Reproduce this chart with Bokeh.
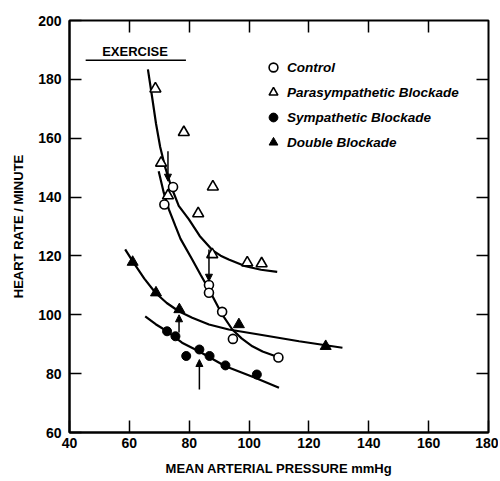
from bokeh.plotting import figure
from bokeh.models import (LinearAxis, FixedTicker, Range1d, Label, Arrow, NormalHead,
                          Legend, LegendItem, CustomJSTickFormatter, ColumnDataSource)
from bokeh.embed import file_html
from bokeh.resources import INLINE

# ---------------- data ----------------
control_x = [74.6, 71.7, 86.6, 86.6, 91.0, 94.6, 109.8]
control_y = [143.4, 137.5, 110.1, 107.5, 101.0, 91.8, 85.5]

para_x = [68.7, 78.2, 70.6, 72.9, 83.0, 87.9, 87.7, 99.4, 104.2]
para_y = [176.8, 162.0, 151.6, 140.5, 134.4, 143.5, 120.5, 117.7, 117.4]

symp_x = [72.6, 75.4, 79.0, 83.4, 86.8, 92.1, 102.6]
symp_y = [94.4, 92.7, 86.0, 88.2, 86.0, 82.8, 79.7]

double_x = [61.1, 68.9, 76.7, 96.6, 125.6]
double_y = [117.9, 107.5, 101.8, 96.7, 89.3]

# hand-drawn fitted curves
para_curve_x = [66.2, 67.6, 68.9, 70.3, 72.0, 74.0, 76.5, 79.9, 83.5, 87.7, 90.5, 93.2, 98.8, 104.0, 109.4]
para_curve_y = [183.4, 174.0, 165.0, 157.0, 150.0, 143.5, 137.0, 132.4, 126.8, 122.0, 120.1, 118.8, 116.5, 115.3, 114.6]

control_curve_x = [69.8, 71.5, 73.2, 75.4, 77.1, 81.0, 83.8, 86.6, 91.0, 94.4, 97.5, 101.1, 104.5, 108.9]
control_curve_y = [148.8, 141.5, 135.8, 130.1, 125.8, 118.8, 113.6, 108.6, 100.1, 95.0, 92.0, 89.3, 87.5, 85.9]

double_curve_x = [58.6, 61.4, 65.0, 68.7, 72.5, 76.5, 81.0, 86.6, 93.2, 103.3, 116.7, 131.2]
double_curve_y = [122.2, 117.7, 112.3, 107.5, 104.0, 101.2, 99.0, 96.7, 95.0, 93.3, 91.0, 88.8]

symp_curve_x = [65.3, 68.8, 72.6, 77.6, 83.2, 92.1, 102.0, 110.0]
symp_curve_y = [99.5, 96.8, 94.4, 90.5, 87.6, 82.5, 78.6, 75.2]

# arrows (x, from y, to y)
arrow_x = [72.9, 86.6, 76.6, 83.4]
arrow_y0 = [155.6, 122.2, 94.0, 74.6]
arrow_y1 = [145.4, 111.4, 100.0, 84.8]

x_ticks = [40, 60, 80, 100, 120, 140, 160, 180]
y_ticks = [60, 80, 100, 120, 140, 160, 180, 200]
top_ticks = [60, 80, 100, 120, 140, 160]
right_ticks = [80, 100, 120, 140, 160, 180]

exercise_text = "EXERCISE"
exercise_x, exercise_y = 61.9, 189.6
exercise_line_x0, exercise_line_x1, exercise_line_y = 45.4, 78.9, 186.5

labels = ["Control", "Parasympathetic Blockade", "Sympathetic Blockade", "Double Blockade"]

# ---------------- figure ----------------
FONT = "Liberation Sans"
p = figure(width=498, height=478, x_range=Range1d(40, 180), y_range=Range1d(60, 200),
           output_backend="svg", toolbar_location=None,
           min_border_left=69, min_border_top=20, min_border_right=10, min_border_bottom=45)
p.grid.visible = False
p.background_fill_color = "white"
p.border_fill_color = "white"
p.outline_line_color = "black"
p.outline_line_width = 2

for ax, ticks in ((p.xaxis[0], x_ticks), (p.yaxis[0], y_ticks)):
    ax.ticker = FixedTicker(ticks=ticks)
    ax.major_tick_in = 12
    ax.major_tick_out = 0
    ax.minor_tick_line_color = None
    ax.axis_line_width = 2
    ax.major_tick_line_width = 1.5
    ax.major_label_text_font = FONT
    ax.major_label_text_font_style = "bold"
    ax.major_label_text_font_size = "14px"
    ax.major_label_text_color = "black"
    ax.axis_label_text_font = FONT
    ax.axis_label_text_font_style = "bold"
    ax.axis_label_text_font_size = "13px"
    ax.axis_label_text_color = "black"

p.xaxis[0].major_label_standoff = 5
p.xaxis[0].axis_label = "MEAN ARTERIAL PRESSURE mmHg"
p.xaxis[0].axis_label_standoff = 10
p.yaxis[0].major_label_standoff = 8
p.yaxis[0].axis_label = "HEART RATE / MINUTE"
p.yaxis[0].axis_label_standoff = 9

blank = CustomJSTickFormatter(code="return ''")
top = LinearAxis(ticker=FixedTicker(ticks=top_ticks), formatter=blank,
                 major_tick_in=12, major_tick_out=0, minor_tick_line_color=None,
                 axis_line_color=None, major_tick_line_width=1.5, major_label_standoff=0)
right = LinearAxis(ticker=FixedTicker(ticks=right_ticks), formatter=blank,
                   major_tick_in=12, major_tick_out=0, minor_tick_line_color=None,
                   axis_line_color=None, major_tick_line_width=1.5, major_label_standoff=0)
p.add_layout(top, "above")
p.add_layout(right, "right")

# curves
for cx, cy in ((para_curve_x, para_curve_y), (control_curve_x, control_curve_y),
               (double_curve_x, double_curve_y), (symp_curve_x, symp_curve_y)):
    p.line(cx, cy, line_color="black", line_width=2.2)

# arrows
asrc = ColumnDataSource(dict(x=arrow_x, y0=arrow_y0, y1=arrow_y1))
p.add_layout(Arrow(end=NormalHead(size=7, fill_color="black", line_color="black"),
                   x_start="x", y_start="y0", x_end="x", y_end="y1", source=asrc,
                   line_color="black", line_width=1.5))

# markers
r_ctrl = p.scatter(control_x, control_y, marker="circle", size=9, fill_color="white",
                   line_color="black", line_width=1.6)
r_para = p.scatter(para_x, para_y, marker="triangle", size=11, fill_color="white",
                   line_color="black", line_width=1.6)
r_symp = p.scatter(symp_x, symp_y, marker="circle", size=9, fill_color="black",
                   line_color="black", line_width=1)
r_dbl = p.scatter(double_x, double_y, marker="triangle", size=11, fill_color="black",
                  line_color="black", line_width=1)

# exercise label
p.segment(x0=[exercise_line_x0], y0=[exercise_line_y], x1=[exercise_line_x1], y1=[exercise_line_y],
          line_color="black", line_width=1.5)
p.add_layout(Label(x=exercise_x, y=exercise_y, text=exercise_text, text_align="center",
                   text_baseline="middle", text_font=FONT, text_font_style="bold",
                   text_font_size="13px", text_color="black"))

legend = Legend(items=[LegendItem(label=labels[0], renderers=[r_ctrl]),
                       LegendItem(label=labels[1], renderers=[r_para]),
                       LegendItem(label=labels[2], renderers=[r_symp]),
                       LegendItem(label=labels[3], renderers=[r_dbl])],
                location=(193, 279), glyph_width=22, glyph_height=22, spacing=3,
                label_standoff=3, padding=0, margin=0, border_line_color=None,
                background_fill_alpha=0, label_text_font=FONT,
                label_text_font_style="bold italic", label_text_font_size="13.5px",
                label_text_color="black", label_height=22)
p.add_layout(legend)

open("out.html", "w").write(file_html(p, INLINE))
